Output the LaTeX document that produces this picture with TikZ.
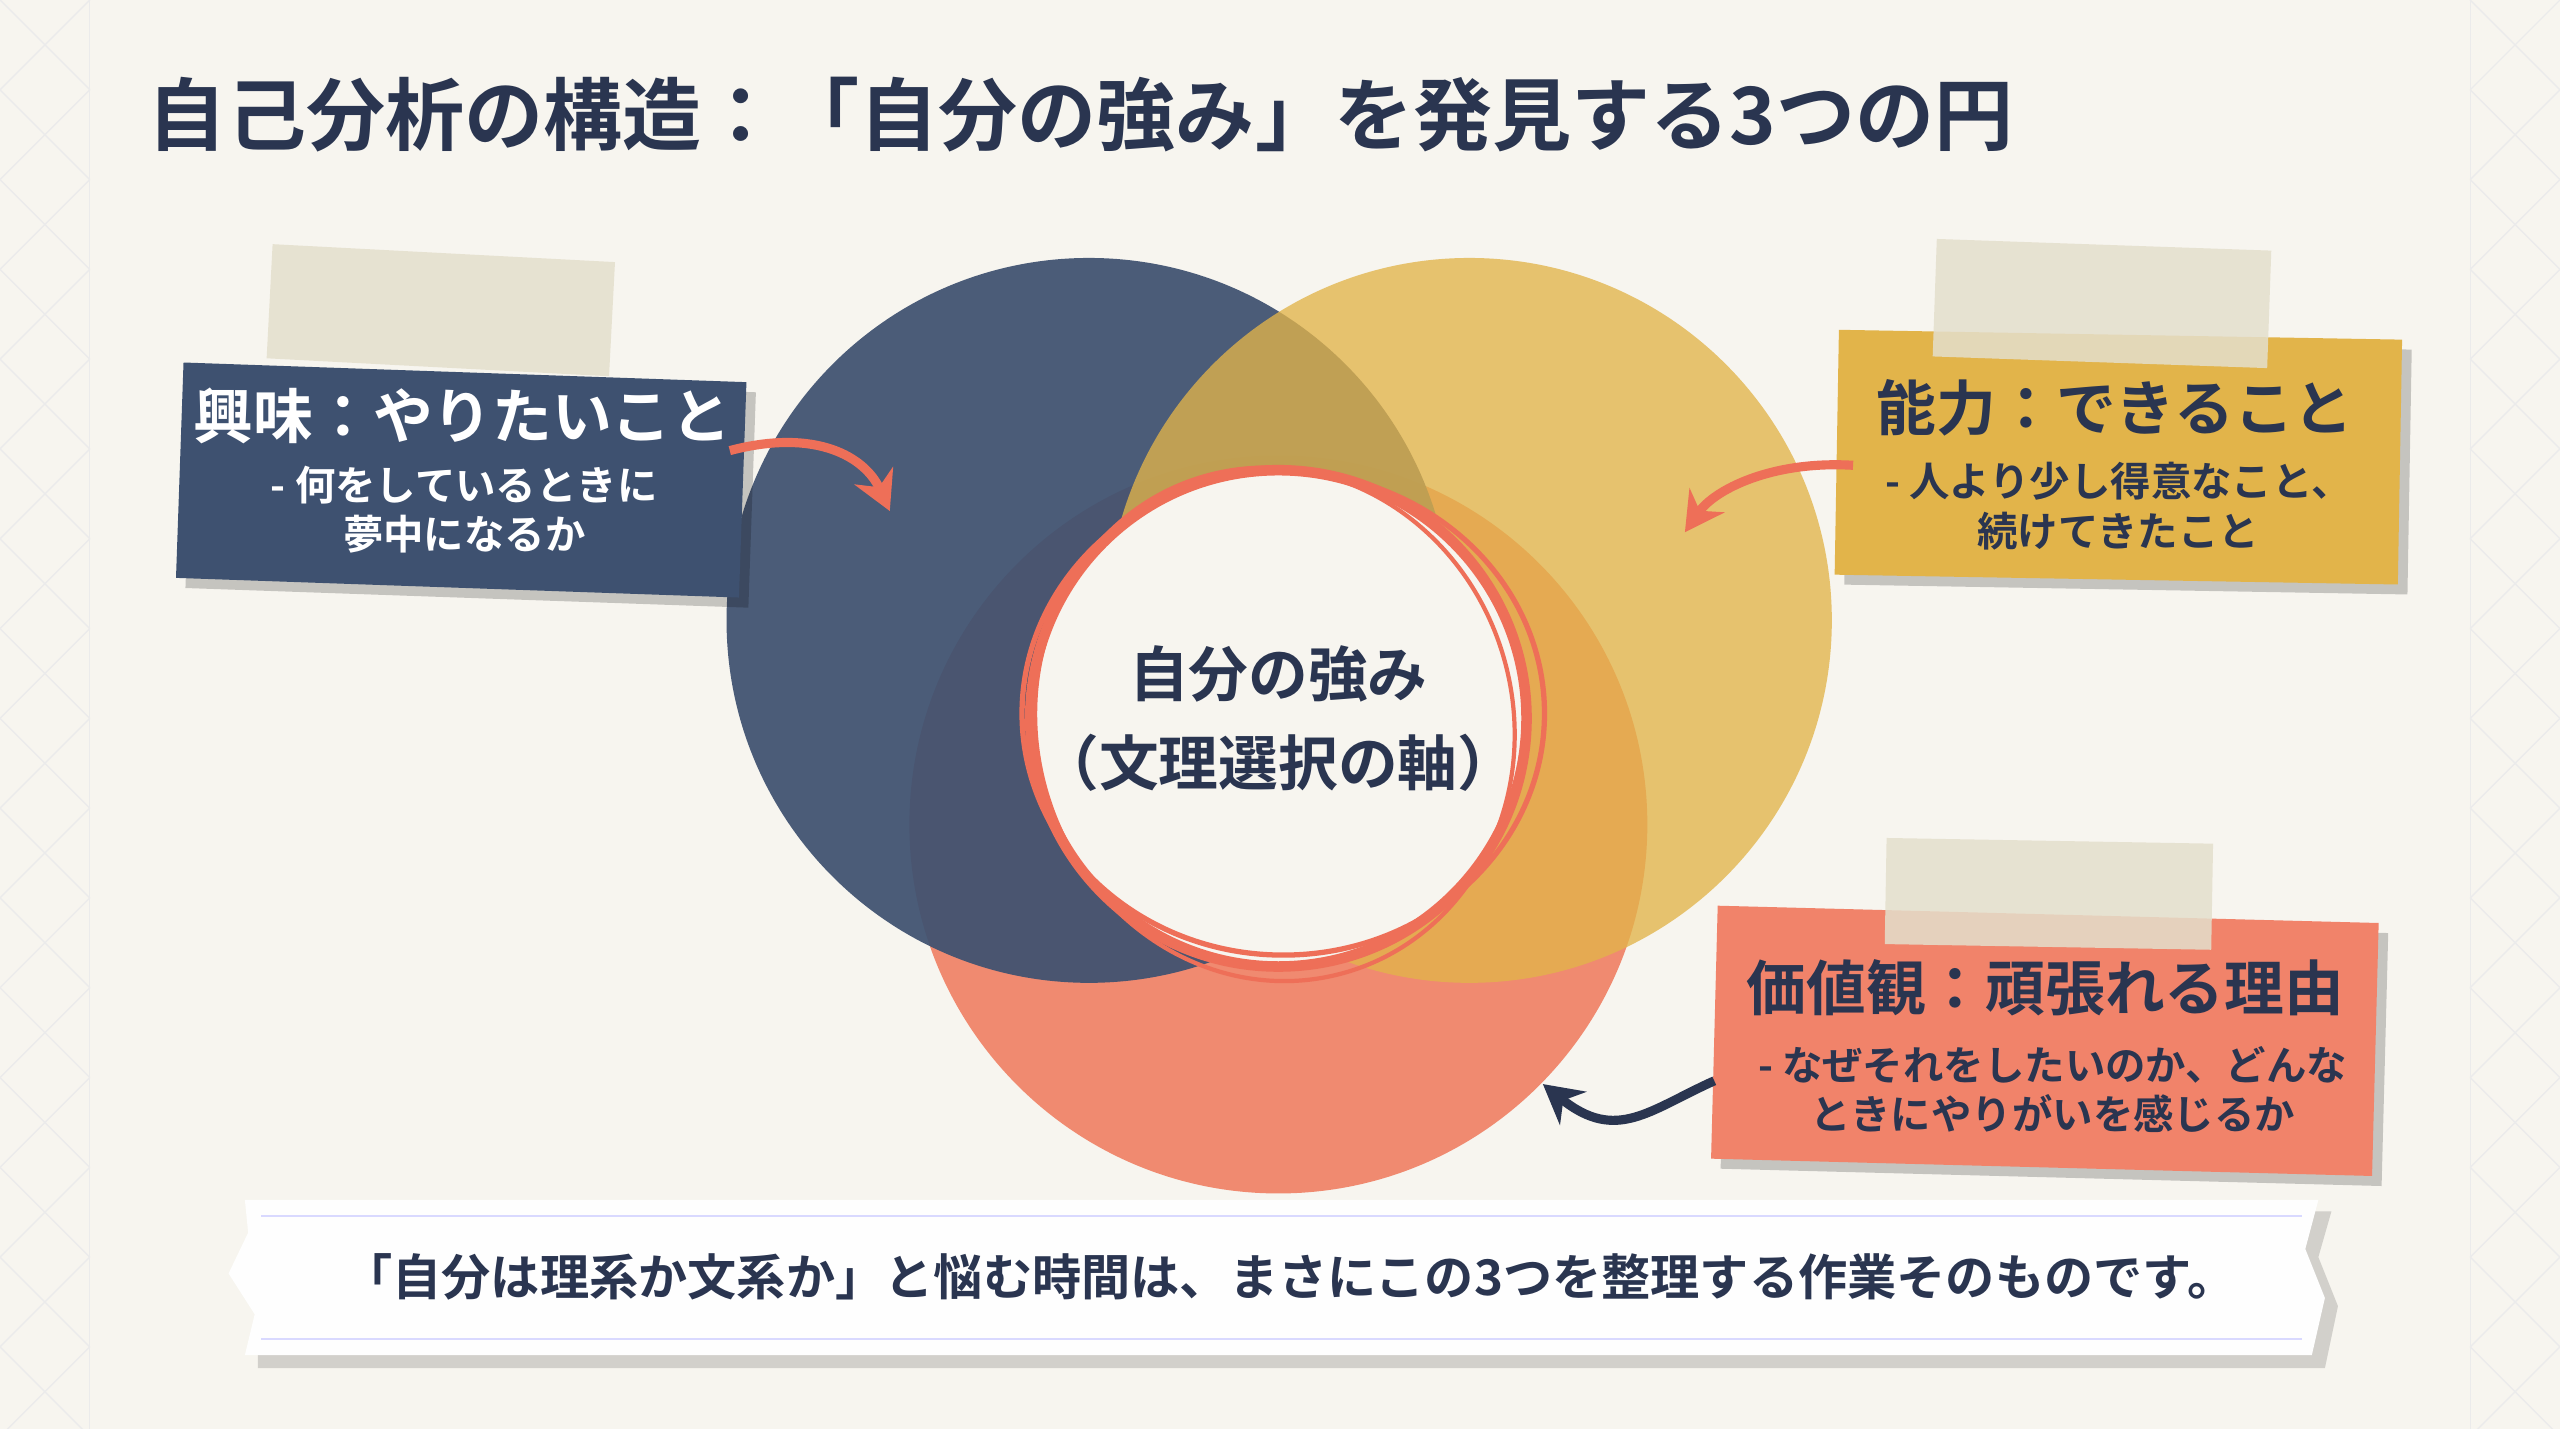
\documentclass[tikz,border=0pt]{standalone}
\usepackage{fontspec}
\setmainfont{Noto Sans CJK JP}
\newfontfamily\cjkb{Noto Sans CJK JP Bold}
\usetikzlibrary{arrows.meta}
\definecolor{bg}{HTML}{F7F5EF}
\definecolor{navy}{HTML}{3E5170}
\definecolor{gold}{HTML}{E2B44A}
\definecolor{salmon}{HTML}{F08A70}
\definecolor{ink}{HTML}{2A3550}
\definecolor{tape}{HTML}{E4DFCC}
\definecolor{ring}{HTML}{EE6F58}
\tikzset{
 tapest/.style={fill=tape,fill opacity=.85,draw=none},
 head/.style={font=\cjkb\fontsize{17}{20}\selectfont},
 sub/.style={font=\cjkb\fontsize{11.5}{14}\selectfont,align=center},
 arr/.style={line width=2.6pt,-{Stealth[length=11pt,width=12pt]}}
}
\begin{document}
\begin{tikzpicture}[x=0.016327cm,y=-0.016327cm]
\fill[bg] (0,0) rectangle (1568,875);
\useasboundingbox (0,0) rectangle (1568,875);
% margin pattern
\begin{scope}[draw=black!8,line width=.4pt]
\foreach \y in {0,55,...,875}{\draw (0,\y)--(55,\y+55) (55,\y)--(0,\y+55) (1513,\y)--(1568,\y+55) (1568,\y)--(1513,\y+55);}
\draw (55,0)--(55,875) (1513,0)--(1513,875);
\end{scope}
\node[anchor=west,text=ink,font=\cjkb\fontsize{22.5}{26}\selectfont] (title) at (83,70) {自己分析の構造：「自分の強み」を発見する3つの円};
% circles
\fill[salmon] (783,505) circle (226);
\fill[navy,fill opacity=.93] (667,380) circle (222);
\fill[gold,fill opacity=.78] (900,380) circle (222);
\fill[bg] (783,440) circle (150);
\draw[ring,line width=3pt] (783,440) circle (152);
\draw[ring,line width=1.5pt] (786,437) ellipse (160 and 148);
\draw[ring,line width=1.2pt,rotate around={15:(783,440)}] (780,443) ellipse (146 and 158);
\node[text=ink,font=\cjkb\fontsize{17}{20}\selectfont] (core) at (783,413) {自分の強み};
\node[text=ink,font=\cjkb\fontsize{17}{20}\selectfont] (axis) at (783,467) {（文理選択の軸）};
% blue box
\begin{scope}[rotate around={-2:(282,294)}]
\fill[black,opacity=.2] (116,234) rectangle (461,366);
\fill[navy] (110,228) rectangle (455,360);
\node[head,text=white] (b1) at (282,255) {興味：やりたいこと};
\node[sub,text=white] (b2) at (285,312) {- 何をしているときに\\夢中になるか};
\end{scope}
\fill[tapest,rotate around={-3:(270,190)}] (165,155) rectangle (375,225);
% gold box
\begin{scope}[rotate around={-1:(1297,280)}]
\fill[black,opacity=.2] (1131,211) rectangle (1476,361);
\fill[gold] (1125,205) rectangle (1470,355);
\node[head,text=ink] (g1) at (1295,250) {能力：できること};
\node[sub,text=ink] (g2) at (1298,310) {- 人より少し得意なこと、\\続けてきたこと};
\end{scope}
\fill[tapest,rotate around={-2:(1290,185)}] (1185,150) rectangle (1390,222);
% salmon box
\begin{scope}[rotate around={-1.5:(1252,637)}]
\fill[black,opacity=.2] (1056,566) rectangle (1461,721);
\fill[salmon!95!red] (1050,560) rectangle (1455,715);
\node[head,text=ink] (s1) at (1252,605) {価値観：頑張れる理由};
\node[sub,text=ink] (s2) at (1258,667) {- なぜそれをしたいのか、どんな\\ときにやりがいを感じるか};
\end{scope}
\fill[tapest,rotate around={-1:(1255,545)}] (1155,515) rectangle (1355,580);
% arrows
\coordinate (a1s) at (447,276); \coordinate (a1e) at (545,313);
\draw[arr,ring] (a1s) .. controls (500,262) and (530,280) .. (a1e);
\coordinate (a2s) at (1135,285); \coordinate (a2e) at (1032,326);
\draw[arr,ring] (a2s) .. controls (1085,282) and (1050,300) .. (a2e);
\coordinate (a3s) at (1050,662); \coordinate (a3e) at (945,664);
\draw[arr,ink] (a3s) .. controls (1010,680) and (990,700) .. (a3e);
% bottom banner
\fill[black,opacity=.15] (158,742) -- (1428,742) -- (1420,770) -- (1432,800) -- (1424,838) -- (158,838) -- cycle;
\fill[white!94!bg] (150,735) -- (1420,735) -- (1412,765) -- (1424,795) -- (1416,830) -- (150,830) -- (156,805) -- (140,780) -- (152,755) -- cycle;
\draw[blue!15,line width=.5pt] (160,745)--(1410,745) (160,820)--(1410,820);
\node[text=ink,font=\cjkb\fontsize{14}{17}\selectfont] (note) at (790,782) {「自分は理系か文系か」と悩む時間は、まさにこの3つを整理する作業そのものです。};
\end{tikzpicture}
\end{document}
